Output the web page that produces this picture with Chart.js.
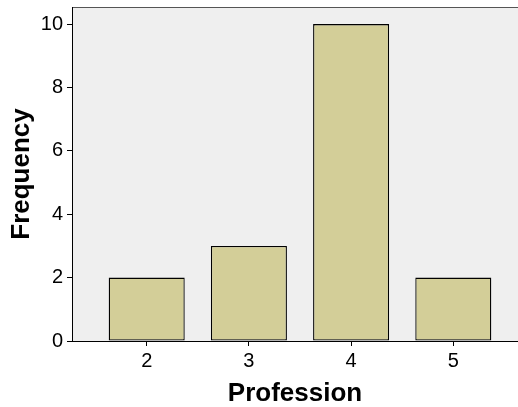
<!DOCTYPE html>
<html>
<head>
<meta charset="utf-8">
<script src="https://cdn.jsdelivr.net/npm/chart.js@4/dist/chart.umd.min.js"></script>
<style>
  html, body { margin: 0; padding: 0; background: #fff; }
  #wrap { width: 518px; height: 407px; }
</style>
</head>
<body>
<div id="wrap"><canvas id="chart" width="518" height="407"></canvas></div>
<script>
// Profession frequency chart

const professions = [2, 3, 4, 5];
const frequencies = [2, 3, 10, 2];
const xTicks = [2, 3, 4, 5];
const yTicks = [0, 2, 4, 6, 8, 10];

// Plot background + top frame line
const plotFrame = {
    id: 'plotFrame',
    beforeDraw(chart) {
        const { ctx, chartArea: a } = chart;
        ctx.save();
        ctx.fillStyle = '#efefef';
        ctx.fillRect(a.left, a.top, a.right - a.left, a.bottom - a.top);
        ctx.strokeStyle = '#555';
        ctx.lineWidth = 1;
        ctx.beginPath();
        ctx.moveTo(a.left, a.top + 0.5);
        ctx.lineTo(a.right, a.top + 0.5);
        ctx.stroke();
        ctx.restore();
    }
};

const tickFont = { family: 'Liberation Sans, Arial, sans-serif', size: 20 };
const titleFont = { family: 'Liberation Sans, Arial, sans-serif', size: 26, weight: 'bold', lineHeight: 1.0 };

new Chart(document.getElementById('chart'), {
    type: 'bar',
    data: {
        datasets: [{
            data: professions.map((p, i) => ({ x: p, y: frequencies[i] })),
            backgroundColor: '#d3ce98',
            borderColor: '#000',
            borderWidth: 1.3,
            borderSkipped: false,
            categoryPercentage: 1,
            barPercentage: 0.744
        }]
    },
    options: {
        responsive: false,
        animation: false,
        layout: { padding: 0 },
        plugins: { legend: { display: false }, tooltip: { enabled: false } },
        scales: {
            x: {
                type: 'linear',
                offset: false,
                min: 1.269,
                max: 5.633,
                afterBuildTicks: s => { s.ticks = xTicks.map(v => ({ value: v })); },
                afterFit: s => { s.height = 66; s.paddingLeft = 0; s.paddingRight = 0; },
                grid: { offset: false, drawOnChartArea: false, drawTicks: true, tickLength: 5, color: '#000' },
                border: { display: true, color: '#000', width: 1 },
                ticks: { color: '#000', font: tickFont, padding: 3, maxRotation: 0 },
                title: { display: true, text: 'Profession', color: '#000', font: titleFont, padding: { top: 0, bottom: 0 } }
            },
            y: {
                min: 0,
                max: 10.54,
                afterBuildTicks: s => { s.ticks = yTicks.map(v => ({ value: v })); },
                afterFit: s => { s.width = 72; s.paddingTop = 7; s.paddingBottom = 0; },
                grid: { drawOnChartArea: false, drawTicks: true, tickLength: 5, color: '#000' },
                border: { display: true, color: '#000', width: 1 },
                ticks: { color: '#000', font: tickFont, padding: 4 },
                title: { display: true, text: 'Frequency', color: '#000', font: titleFont, padding: { top: 9, bottom: 0 } }
            }
        }
    },
    plugins: [plotFrame]
});
</script>
</body>
</html>
